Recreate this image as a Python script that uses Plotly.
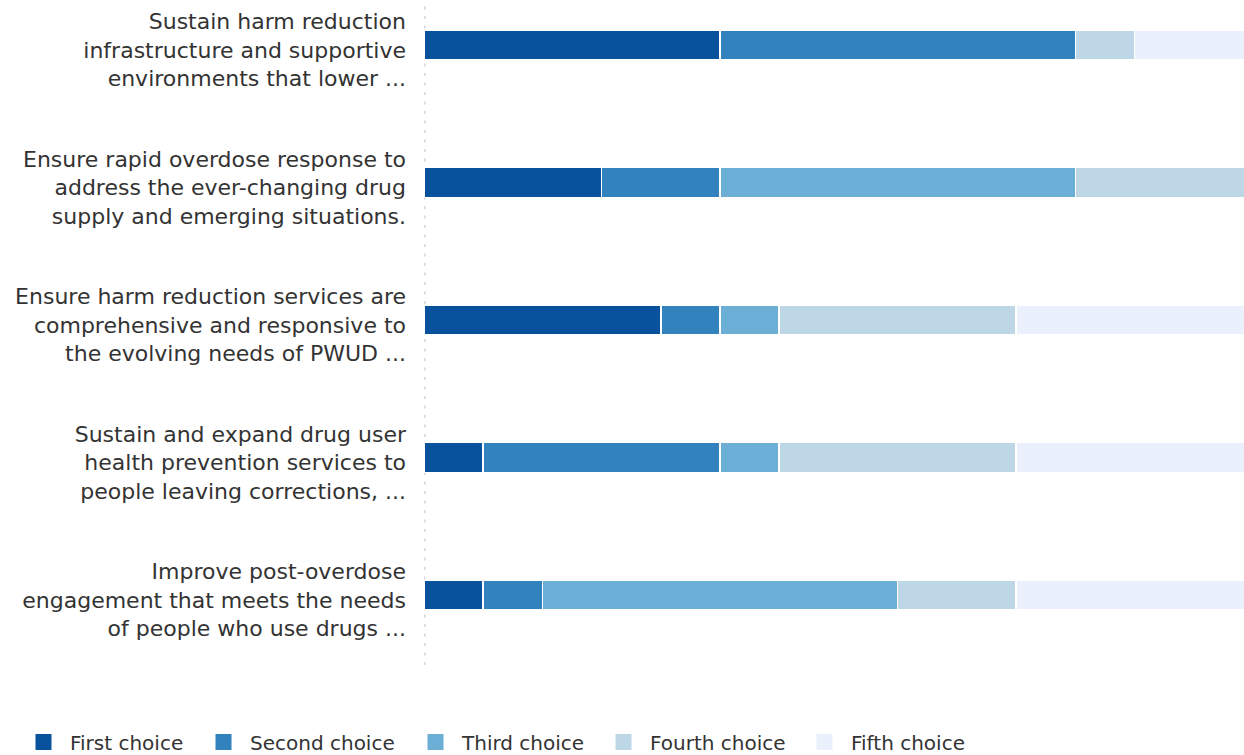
import plotly.graph_objects as go

# Priority statements (y-axis labels), top to bottom
categories = [
    "Sustain harm reduction<br>infrastructure and supportive<br>environments that lower ...",
    "Ensure rapid overdose response to<br>address the ever-changing drug<br>supply and emerging situations.",
    "Ensure harm reduction services are<br>comprehensive and responsive to<br>the evolving needs of PWUD ...",
    "Sustain and expand drug user<br>health prevention services to<br>people leaving corrections, ...",
    "Improve post-overdose<br>engagement that meets the needs<br>of people who use drugs ...",
]

# Number of respondents ranking each statement at each position
first_choice = [5, 3, 4, 1, 1]
second_choice = [6, 2, 1, 4, 1]
third_choice = [0, 6, 1, 1, 6]
fourth_choice = [1, 3, 4, 4, 2]
fifth_choice = [2, 0, 4, 4, 4]

series_names = ["First choice", "Second choice", "Third choice", "Fourth choice", "Fifth choice"]
series_values = [first_choice, second_choice, third_choice, fourth_choice, fifth_choice]
series_colors = ["#08519c", "#3182bd", "#6baed6", "#bdd7e7", "#eaf1fd"]

# Left edge (px) of each legend entry's text along the bottom row
legend_text_x = [70, 250, 462, 650, 851]

W, H = 1244, 755
FONT = "DejaVu Sans, Liberation Sans, Arial, sans-serif"
ITEM_W = 43  # legend swatch column width
X_MAX = 13.85  # visible extent of the value axis (bars run slightly past the right edge)

positions = list(range(len(categories)))

fig = go.Figure()
for name, vals, color in zip(series_names, series_values, series_colors):
    fig.add_trace(go.Bar(
        y=positions,
        x=vals,
        name=name,
        orientation="h",
        width=0.22,
        marker=dict(color=color, line=dict(color="white", width=1.5)),
        hovertemplate="%{x}<extra>" + name + "</extra>",
        showlegend=False,
    ))

# Legend entries: one square swatch per series, each in its own legend box
legend_layout = {}
for i, (name, color, tx) in enumerate(zip(series_names, series_colors, legend_text_x)):
    key = "legend" if i == 0 else f"legend{i + 1}"
    fig.add_trace(go.Scatter(
        x=[None], y=[None],
        mode="markers",
        name=name,
        marker=dict(symbol="square", size=16, color=color),
        legend=key,
        showlegend=True,
        hoverinfo="skip",
    ))
    legend_layout[key] = dict(
        xref="container", yref="container",
        x=(tx - ITEM_W - 10) / W, y=(H - 742) / H,
        xanchor="left", yanchor="middle",
        orientation="h",
        itemwidth=ITEM_W,
        bgcolor="rgba(0,0,0,0)",
        font=dict(family=FONT, size=20, color="#333333"),
    )

fig.update_layout(
    barmode="stack",
    width=W,
    height=H,
    margin=dict(l=424, r=0, t=5, b=90),
    paper_bgcolor="white",
    plot_bgcolor="white",
    font=dict(family=FONT, size=22, color="#333333"),
    xaxis=dict(visible=False, range=[0, X_MAX], fixedrange=True),
    yaxis=dict(
        tickmode="array",
        tickvals=positions,
        ticktext=categories,
        range=[4.509, -0.291],
        showgrid=False,
        zeroline=False,
        showline=False,
        ticks="",
        ticklabelstandoff=17,
        ticklabelshift=-5,
        tickfont=dict(family=FONT, size=22, color="#333333"),
    ),
    **legend_layout,
)

# Dotted baseline along the left edge of the bars
fig.add_shape(
    type="line",
    xref="x", yref="paper",
    x0=0, x1=0, y0=0, y1=1,
    line=dict(color="#d6d6d6", width=3, dash="3px,6.5px"),
    layer="below",
)

fig.write_html("out.html")
